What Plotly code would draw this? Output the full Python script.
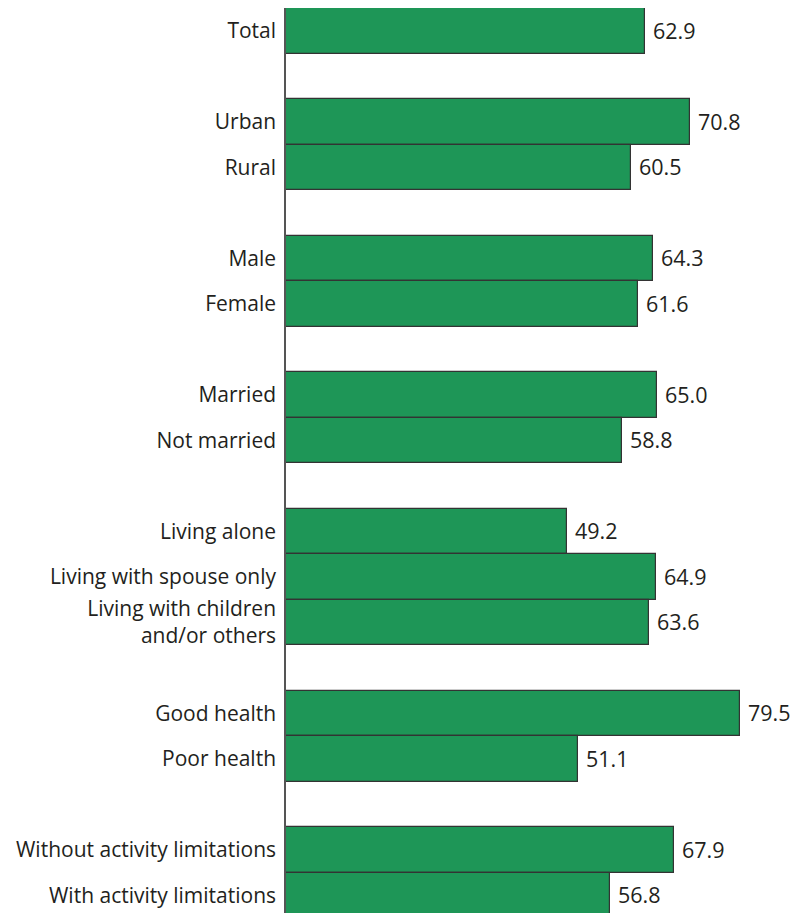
import plotly.graph_objects as go

categories = ["Total", "Urban", "Rural", "Male", "Female", "Married", "Not married",
              "Living alone", "Living with spouse only", "Living with children<br>and/or others",
              "Good health", "Poor health", "Without activity limitations", "With activity limitations"]
values = [62.9, 70.8, 60.5, 64.3, 61.6, 65.0, 58.8, 49.2, 64.9, 63.6, 79.5, 51.1, 67.9, 56.8]
positions = [0, 2, 3, 5, 6, 8, 9, 11, 12, 13, 15, 16, 18, 19]

fig = go.Figure(go.Bar(
    x=values, y=positions, orientation="h", width=1,
    marker=dict(color="#1e9657", line=dict(color="#333333", width=1.2)),
    text=[f" {v:.1f}" for v in values], textposition="outside",
    textfont=dict(size=21.5, color="#231f20", family="Open Sans"),
    cliponaxis=False, hoverinfo="skip",
))
fig.update_layout(
    width=794, height=913, margin=dict(l=286, r=0, t=8, b=0),
    plot_bgcolor="white", paper_bgcolor="white", showlegend=False,
    font=dict(family="Open Sans", size=21, color="#231f20"),
    bargap=0,
)
fig.update_xaxes(range=[0, 89], visible=False, showgrid=False)
fig.update_yaxes(range=[19.39, -0.5], tickvals=positions, ticktext=categories,
                 showline=True, linecolor="#555555", linewidth=1.5, showgrid=False,
                 zeroline=False, ticks="", ticklabelstandoff=4)
fig.write_html("out.html", config={"displayModeBar": False},
               post_script="document.body.style.margin='0';document.body.style.overflow='hidden';")
